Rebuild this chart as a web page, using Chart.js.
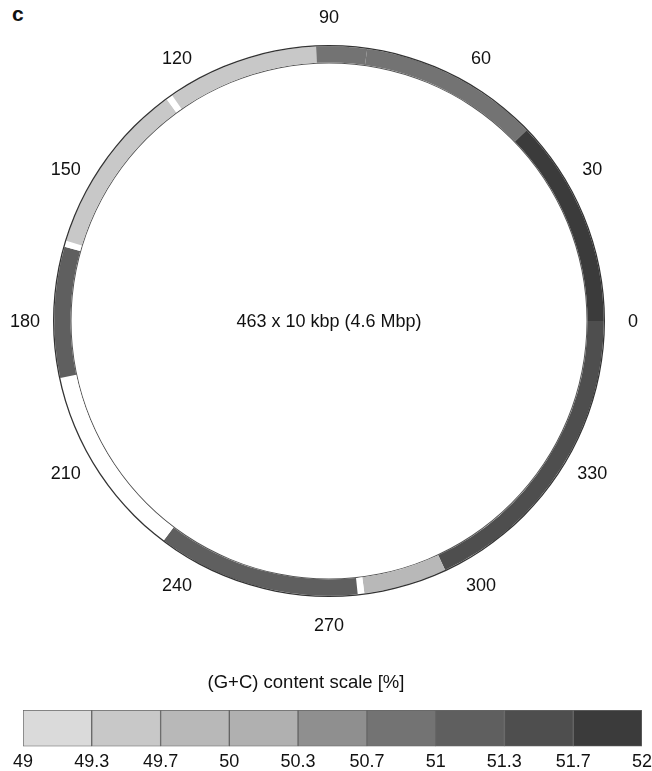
<!DOCTYPE html>
<html>
<head>
<meta charset="utf-8">
<script src="https://cdn.jsdelivr.net/npm/chart.js@4.4.0/dist/chart.umd.min.js"></script>
<style>
  body { margin: 0; background: #fff; width: 652px; height: 771px; overflow: hidden; position: relative; }
  #panel { position: absolute; left: 12px; top: 2px; font: bold 21px "Liberation Sans", Arial, sans-serif; color: #111; }
  #ringBox { position: absolute; left: 0; top: 0; width: 652px; height: 650px; }
  #scaleBox { position: absolute; left: 0; top: 660px; width: 657px; height: 118px; }
</style>
</head>
<body>
<div id="panel">c</div>
<div id="ringBox"><canvas id="ring"></canvas></div>
<div id="scaleBox"><canvas id="scale"></canvas></div>
<script>
// ring segments: start angle in degrees, counter-clockwise from 0 (right side)
const segStart = [0, 44, 82, 92.7, 124.8, 126.2, 163, 164.3, 192, 233, 276, 277.4, 295];
// (G+C) % of each segment, null = no colour (white)
const segGC = [51.8, 50.85, 50.9, 49.5, null, 49.5, null, 51.15, null, 51.15, null, 49.8, 51.5];

const angleTicks = [0, 30, 60, 90, 120, 150, 180, 210, 240, 270, 300, 330];
const centerText = '463 x 10 kbp (4.6 Mbp)';

// colour scale
const scaleTitle = '(G+C) content scale [%]';
const scaleTicks = [49, 49.333, 49.667, 50, 50.333, 50.667, 51, 51.333, 51.667, 52];
const scaleLabels = ['49', '49.3', '49.7', '50', '50.3', '50.7', '51', '51.3', '51.7', '52'];
const scaleColors = ['#dadada', '#c8c8c8', '#b8b8b8', '#b0b0b0', '#8f8f8f', '#737373', '#5f5f5f', '#4e4e4e', '#3b3b3b'];

const FONT = '"Liberation Sans", Arial, sans-serif';

function gcColor(v) {
    if (v === null) return '#ffffff';
    for (let i = 0; i < scaleColors.length; i++) {
        if (v < scaleTicks[i + 1]) return scaleColors[i];
    }
    return scaleColors[scaleColors.length - 1];
}

// doughnut goes clockwise, so feed the segments from 360 downwards
const arcs = segStart.map((s, i) => {
    const end = i < segStart.length - 1 ? segStart[i + 1] : 360;
    return { size: end - s, color: gcColor(segGC[i]) };
}).reverse();

const ringLabels = {
    id: 'ringLabels',
    afterDraw(chart) {
        const arc = chart.getDatasetMeta(0).data[0];
        const { x, y, outerRadius } = arc;
        const ctx = chart.ctx;
        ctx.save();
        ctx.fillStyle = '#111';
        ctx.textAlign = 'center';
        ctx.textBaseline = 'middle';
        ctx.font = '18px ' + FONT;
        angleTicks.forEach(a => {
            const r = outerRadius + 28;
            const t = a * Math.PI / 180;
            ctx.fillText(String(a), x + r * Math.cos(t), y - r * Math.sin(t) + 1.5);
        });
        ctx.fillText(centerText, x, y + 1);
        ctx.restore();
    }
};

// title of the colour scale sits a bit left of the bar's middle
const scaleCaption = {
    id: 'scaleCaption',
    afterDraw(chart) {
        const ctx = chart.ctx;
        ctx.save();
        ctx.fillStyle = '#111';
        ctx.textAlign = 'center';
        ctx.textBaseline = 'middle';
        ctx.font = '18.5px ' + FONT;
        ctx.fillText(scaleTitle, 306, 23);
        ctx.restore();
    }
};

new Chart(document.getElementById('ring'), {
    type: 'doughnut',
    data: {
        labels: arcs.map((a, i) => 'seg' + i),
        datasets: [
            { data: [360], backgroundColor: '#333', borderWidth: 0, weight: 1.3 },
            { data: arcs.map(a => a.size), backgroundColor: arcs.map(a => a.color), borderWidth: 0, weight: 16.2 },
            { data: [360], backgroundColor: '#555', borderWidth: 0, weight: 1 }
        ]
    },
    options: {
        responsive: true,
        maintainAspectRatio: false,
        animation: false,
        rotation: 90,
        cutout: '93.3%',
        hoverOffset: 0,
        layout: { padding: { left: 53, right: 47, top: 45, bottom: 53 } },
        plugins: {
            legend: { display: false },
            tooltip: { enabled: false }
        }
    },
    plugins: [ringLabels]
});

new Chart(document.getElementById('scale'), {
    type: 'bar',
    data: {
        labels: [''],
        datasets: scaleColors.map((c, i) => ({
            data: [[scaleTicks[i], scaleTicks[i + 1]]],
            backgroundColor: c,
            borderColor: '#666',
            borderWidth: 1,
            borderSkipped: false,
            grouped: false,
            barPercentage: 1,
            categoryPercentage: 1
        }))
    },
    options: {
        indexAxis: 'y',
        responsive: true,
        maintainAspectRatio: false,
        animation: false,
        layout: { padding: { left: 23, right: 9, top: 50, bottom: 0 } },
        scales: {
            x: {
                type: 'linear',
                min: 49,
                max: 52,
                afterBuildTicks: axis => { axis.ticks = scaleTicks.map(v => ({ value: v })); },
                ticks: {
                    autoSkip: false,
                    maxRotation: 0,
                    padding: 5,
                    color: '#111',
                    font: { family: FONT, size: 18 },
                    callback: (v, i) => scaleLabels[i]
                },
                grid: { display: false, drawTicks: false },
                border: { display: false }
            },
            y: { display: false }
        },
        plugins: {
            legend: { display: false },
            tooltip: { enabled: false },
            title: { display: false }
        }
    },
    plugins: [scaleCaption]
});
</script>
</body>
</html>
